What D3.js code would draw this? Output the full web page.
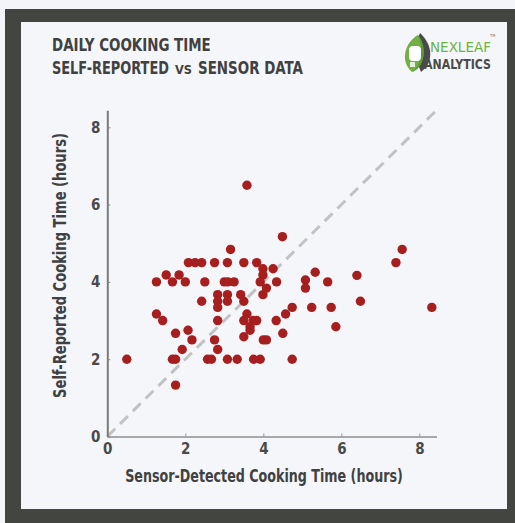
<!DOCTYPE html>
<html>
<meta charset="utf-8">
<script src="https://d3js.org/d3.v7.min.js"></script>
<style>
  body { margin: 0; background: #f4f5f8; }
  text { font-family: 'Liberation Sans Narrow', 'DejaVu Sans Condensed', sans-serif; }
</style>
<div id="chart_div"></div>

<script>

// sensor-detected hours (x) and self-reported hours (y), one entry per household
var sensorHours = [3.58, 4.49, 3.16, 7.56,
  2.08, 2.25, 2.42, 2.75, 3.08, 3.5, 3.83, 7.40,
  3.99, 4.25, 5.33,
  1.51, 1.84, 3.99, 6.40, 5.08,
  1.26, 1.67, 2.0, 2.5, 3.0, 3.09, 3.25, 3.92, 4.34, 5.65,
  4.08, 5.08,
  2.83, 3.08, 3.42, 3.99,
  2.42, 2.83, 3.08, 3.5, 6.49,
  2.83, 4.74, 5.24, 5.74, 8.32,
  1.26, 3.58, 4.57,
  1.42, 2.83, 3.5, 3.74, 3.83, 4.33,
  3.66, 5.86, 2.07, 3.66,
  1.75, 4.5, 3.5,
  2.17, 2.75, 4.0, 4.08,
  1.92, 2.83,
  0.5, 1.67, 1.75, 2.57, 2.67, 3.08, 3.33, 3.75, 3.92, 4.74,
  1.75];
var reportedHours = [6.5, 5.17, 4.84, 4.84,
  4.5, 4.5, 4.5, 4.5, 4.5, 4.5, 4.5, 4.5,
  4.34, 4.34, 4.25,
  4.18, 4.18, 4.18, 4.17, 4.05,
  4.0, 4.0, 4.0, 4.0, 4.0, 4.0, 4.0, 4.0, 4.0, 4.0,
  3.84, 3.84,
  3.67, 3.67, 3.67, 3.67,
  3.5, 3.5, 3.5, 3.5, 3.5,
  3.34, 3.34, 3.34, 3.34, 3.34,
  3.17, 3.17, 3.17,
  3.0, 3.0, 3.0, 3.0, 3.0, 3.0,
  2.84, 2.84, 2.75, 2.75,
  2.67, 2.67, 2.58,
  2.5, 2.5, 2.5, 2.5,
  2.25, 2.25,
  2.0, 2.0, 2.0, 2.0, 2.0, 2.0, 2.0, 2.0, 2.0, 2.0,
  1.33];
var tickValues = [0, 2, 4, 6, 8];
var axisMax = 8.44;

var W = 515, H = 523;
var margin = {top: 110.3, left: 107.3, bottom: 86.5, right: 78.5};
var width = W - margin.left - margin.right,
    height = H - margin.top - margin.bottom;

var svg = d3.select("#chart_div")
  .append("svg")
    .attr("width", W)
    .attr("height", H);

// squeeze a text horizontally so it spans the wanted width
function fitText(sel, targetWidth, pre) {
  var w = sel.node().getComputedTextLength();
  sel.attr("transform", pre + " scale(" + (targetWidth / w) + ",1)");
  return sel;
}

// frame
svg.append("rect").attr("x", 5).attr("y", 9).attr("width", 510).attr("height", 514).attr("fill", "#434541");
svg.append("rect").attr("x", 21).attr("y", 22).attr("width", 486).attr("height", 487).attr("fill", "#f5f6fa");

// title
function titleText(str, xPos, yPos, size, len) {
  var t = svg.append("text")
    .attr("font-size", size).attr("font-weight", "bold").attr("fill", "#414141")
    .text(str);
  return fitText(t, len, "translate(" + xPos + "," + yPos + ")");
}
titleText("DAILY COOKING TIME", 52, 50.5, 18, 159);
titleText("SELF-REPORTED", 52, 73.5, 17.5, 117);
titleText("VS", 175, 73.5, 11.5, 17);
titleText("SENSOR DATA", 198, 73.5, 17.5, 105);

// logo
var logo = svg.append("g");
logo.append("path").attr("d", "M420,33 C433,45 434,62 421,72 C416,60 413,46 420,33 Z").attr("fill", "#4a4b49");
logo.append("path").attr("d", "M418,35 C404,43 400,62 412,72 C424,68 428,48 418,35 Z").attr("fill", "#72b043");
logo.append("path").attr("d", "M418,35 C424,48 422,64 412,72 C424,68 428,48 418,35 Z").attr("fill", "#5a9a3a");
logo.append("rect").attr("x", 409).attr("y", 46).attr("width", 12).attr("height", 15).attr("rx", 4).attr("fill", "#ffffff");
logo.append("rect").attr("x", 410).attr("y", 62).attr("width", 5).attr("height", 5).attr("fill", "#ffffff").attr("opacity", 0.8);
var nex = logo.append("text").attr("font-size", 13.5).attr("fill", "#6db33f").text("NEXLEAF");
fitText(nex, 61, "translate(430,51.5)");
var ana = logo.append("text").attr("font-size", 13.5).attr("font-weight", "bold").attr("fill", "#4a4b49").text("ANALYTICS");
fitText(ana, 67, "translate(424,68.5)");
logo.append("text").attr("x", 490).attr("y", 37).attr("font-size", 4).attr("fill", "#777").text("TM");

var g = svg.append("g")
  .attr("transform", "translate(" + margin.left + "," + margin.top + ")");

var x = d3.scaleLinear().domain([0, axisMax]).range([0, width]);
var y = d3.scaleLinear().domain([0, axisMax]).range([height, 0]);

// reference line y = x
g.append("line")
  .attr("x1", x(0)).attr("y1", y(0))
  .attr("x2", x(8.4)).attr("y2", y(8.4))
  .attr("stroke", "#c2c2c2").attr("stroke-width", 3)
  .attr("stroke-dasharray", "11,7");

var xAxis = g.append("g")
  .attr("transform", "translate(0," + height + ")")
  .call(d3.axisBottom(x).tickValues(tickValues).tickSizeInner(-3).tickSizeOuter(0).tickPadding(7));
xAxis.select(".domain").attr("stroke", "#a8a8a8").attr("stroke-width", 2);
xAxis.selectAll(".tick line").attr("stroke", "#999");

var yAxis = g.append("g")
  .call(d3.axisLeft(y).tickValues(tickValues).tickSizeInner(-3).tickSizeOuter(0).tickPadding(7));
yAxis.select(".domain").attr("stroke", "#7a7a7a").attr("stroke-width", 2);
yAxis.selectAll(".tick line").attr("stroke", "#888");

g.selectAll(".tick text")
  .attr("font-family", "'Liberation Sans Narrow', 'DejaVu Sans Condensed', sans-serif")
  .attr("font-size", 15).attr("font-weight", "bold").attr("fill", "#4a4a4a");

// points
g.selectAll("circle.pt")
  .data(d3.range(sensorHours.length))
  .enter()
  .append("circle")
    .attr("class", "pt")
    .attr("cx", function(i) { return x(sensorHours[i]); })
    .attr("cy", function(i) { return y(reportedHours[i]); })
    .attr("r", 4.7)
    .attr("fill", "#a61e1e");

// axis titles
var xt = svg.append("text")
  .attr("text-anchor", "middle")
  .attr("font-size", 18).attr("font-weight", "bold").attr("fill", "#414141")
  .text("Sensor-Detected Cooking Time (hours)");
fitText(xt, 278, "translate(264,481.7)");

var yt = svg.append("text")
  .attr("text-anchor", "middle")
  .attr("font-size", 18).attr("font-weight", "bold").attr("fill", "#414141")
  .text("Self-Reported Cooking Time (hours)");
fitText(yt, 265, "translate(66,265.5) rotate(-90)");

</script>
</html>
